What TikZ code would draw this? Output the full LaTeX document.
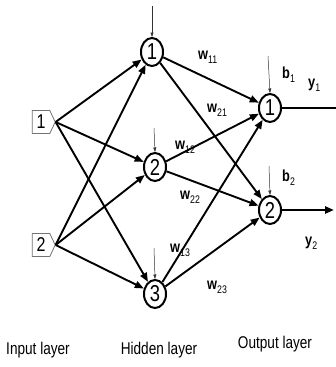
\documentclass[tikz,border=0pt]{standalone}
\usepackage{fontspec}
\setmainfont[FakeStretch=0.8]{Liberation Sans}
\usetikzlibrary{arrows.meta,shapes.geometric,shapes.symbols}
% weight/bias/output label: letter with a lowered index
\newcommand\lblsub[2]{#1\raisebox{-0.45ex}{\fontsize{11}{11}\selectfont\mdseries #2}}
\tikzset{
  neuron/.style={draw, ellipse, line width=2pt, minimum width=22pt, minimum height=28pt,
                 inner sep=0pt, font=\fontsize{23}{23}\selectfont},
  inbox/.style={draw=black!55, line width=0.8pt, signal, signal to=east, signal pointer angle=130,
                minimum width=23pt, minimum height=23pt, inner sep=0pt, font=\fontsize{20}{20}\selectfont},
  link/.style={line width=1.9pt, -{Triangle[length=9pt,width=7pt]}},
  bias/.style={line width=0.5pt, draw=black!80, -{Triangle[length=4.5pt,width=3pt]}},
  wlab/.style={font=\fontsize{16}{16}\selectfont\bfseries, inner sep=0pt, anchor=west},
  layer/.style={font=\fontsize{17}{17}\selectfont, inner sep=0pt},
}
\begin{document}
\begin{tikzpicture}[x=1pt,y=-1pt]
  \useasboundingbox (0,0) rectangle (335,367);

  % input layer
  \node[inbox] (in1) at (41,122) {1};
  \node[inbox] (in2) at (41,245) {2};

  % hidden layer
  \node[neuron] (h1) at (152,52) {1};
  \node[neuron] (h2) at (155,167) {2};
  \node[neuron] (h3) at (155,294) {3};

  % output layer
  \node[neuron] (o1) at (270,108) {1};
  \node[neuron] (o2) at (270,210) {2};

  % bias inputs
  \coordinate (bh1) at (152,6);
  \coordinate (bh2) at (154,128);
  \coordinate (bh3) at (154,248);
  \coordinate (bo1) at (268,56);
  \coordinate (bo2) at (269,166);
  \draw[bias] (bh1) -- (h1.north);
  \draw[bias] (bh2) -- (h2.north);
  \draw[bias] (bh3) -- (h3.north);
  \draw[bias] (bo1) -- (o1.north);
  \draw[bias] (bo2) -- (o2.north);

  % input -> hidden
  \foreach \i in {in1,in2}
    \foreach \h in {h1,h2,h3}
      \draw[link] (\i.east) -- (\h);

  % hidden -> output
  \foreach \h in {h1,h2,h3}
    \foreach \o in {o1,o2}
      \draw[link] (\h) -- (\o);

  % outputs
  \coordinate (y1end) at (336,108);
  \coordinate (y2end) at (334,210);
  \draw[line width=2.2pt] (o1) -- (y1end);
  \draw[line width=2.2pt, -{Triangle[length=9pt,width=7pt]}] (o2) -- (y2end);

  % weights, biases, outputs
  \node[wlab] (w11) at (198,57)  {\lblsub{w}{11}};
  \node[wlab] (w21) at (207,110) {\lblsub{w}{21}};
  \node[wlab] (w12) at (175,147) {\lblsub{w}{12}};
  \node[wlab] (w22) at (180,197) {\lblsub{w}{22}};
  \node[wlab] (w13) at (170,250) {\lblsub{w}{13}};
  \node[wlab] (w23) at (207,287) {\lblsub{w}{23}};
  \node[wlab] (b1)  at (282,75)  {\lblsub{b}{1}};
  \node[wlab] (b2)  at (282,178) {\lblsub{b}{2}};
  \node[wlab] (y1)  at (308,85)  {\lblsub{y}{1}};
  \node[wlab] (y2)  at (305,243) {\lblsub{y}{2}};

  % layer captions
  \node[layer] (lin)  at (38,350)  {Input layer};
  \node[layer] (lhid) at (159,350) {Hidden layer};
  \node[layer] (lout) at (275,344) {Output layer};
\end{tikzpicture}
\end{document}
